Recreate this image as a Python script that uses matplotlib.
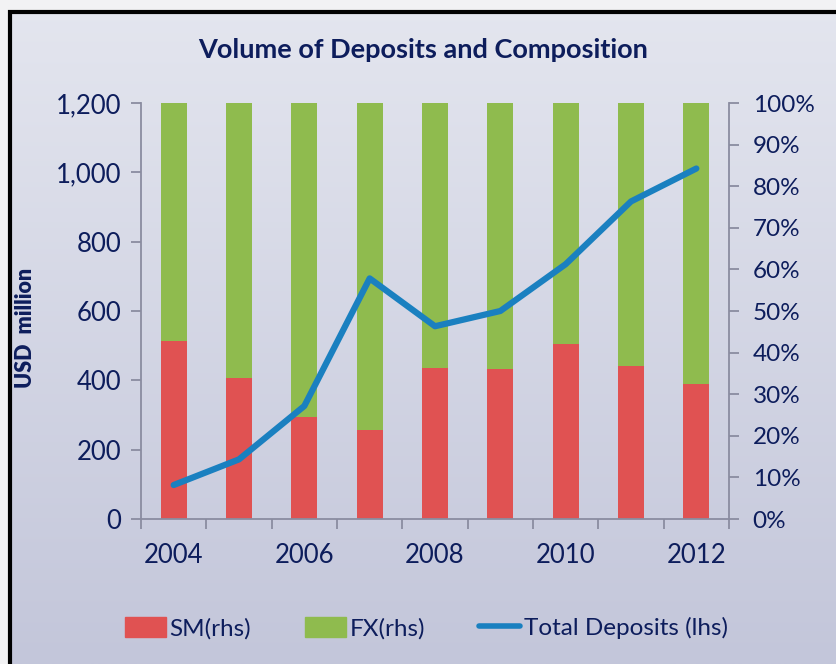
import numpy as np
import matplotlib
matplotlib.use("Agg")
import matplotlib.pyplot as plt
from matplotlib.patches import Rectangle, Patch
from matplotlib.lines import Line2D
from matplotlib.ticker import FuncFormatter

years = [2004, 2005, 2006, 2007, 2008, 2009, 2010, 2011, 2012]
total_deposits = [98, 172, 326, 694, 556, 600, 735, 916, 1011]   # USD million (lhs)
sm_share = [42.7, 33.9, 24.4, 21.4, 36.3, 36.1, 42.1, 36.7, 32.4]  # % (rhs)
fx_share = [100 - s for s in sm_share]

navy = "#0d1d5c"
red = "#e05252"
green = "#8fbb4e"
blue = "#1a80c0"
grey = "#8a8ca0"

plt.rcParams['font.family'] = ['Lato', 'DejaVu Sans']

fig = plt.figure(figsize=(8.37, 6.64), dpi=100)

# background gradient + outer frame
bg = fig.add_axes([0, 0, 1, 1], zorder=-10)
grad = np.linspace(0, 1, 256).reshape(-1, 1)
cmap = matplotlib.colors.LinearSegmentedColormap.from_list("bg", ["#e4e6ef", "#c3c6da"])
bg.imshow(grad, aspect="auto", cmap=cmap, extent=[0, 1, 0, 1])
bg.set_xlim(0, 1)
bg.set_ylim(0, 1)
bg.axis("off")
bg.add_patch(Rectangle((-0.1, 1 - 10 / 664), 1.2, 0.1, color="#f2f2f4", zorder=2))
bg.add_patch(Rectangle((-0.1, -0.1), 0.11, 1.2, color="#f2f2f4", zorder=2))
bg.plot([10 / 837, 10 / 837, 1.01], [-0.01, 1 - 11.5 / 664, 1 - 11.5 / 664],
        color="black", lw=3, zorder=3, solid_joinstyle="miter")

ax = fig.add_axes([141 / 837, 1 - 519 / 664, (729 - 141) / 837, (519 - 103) / 664])
ax2 = ax.twinx()
x = np.arange(len(years))

ax2.bar(x, sm_share, width=0.4, color=red, label="SM(rhs)")
ax2.bar(x, fx_share, width=0.4, bottom=sm_share, color=green, label="FX(rhs)")
ax.plot(x, total_deposits, color=blue, lw=4.5, solid_capstyle="round", label="Total Deposits (lhs)")

ax.set_zorder(ax2.get_zorder() + 1)
ax.patch.set_visible(False)
ax2.patch.set_visible(False)

ax.set_xlim(-0.5, len(years) - 0.5)
ax.set_ylim(0, 1200)
ax2.set_ylim(0, 100)
ax.set_yticks(range(0, 1201, 200))
ax.yaxis.set_major_formatter(FuncFormatter(lambda v, p: f"{int(v):,}"))
ax2.set_yticks(range(0, 101, 10))
ax2.yaxis.set_major_formatter(FuncFormatter(lambda v, p: f"{int(v)}%"))

ax.set_xticks(x[::2])
ax.set_xticklabels([str(y) for y in years[::2]])
ax.set_xticks(np.arange(-0.5, len(years)), minor=True)
ax.tick_params(axis="x", which="major", length=0, pad=17)
ax.tick_params(axis="x", which="minor", length=7, color=grey, width=1.3)

for a in (ax, ax2):
    for s in a.spines.values():
        s.set_visible(False)
    a.tick_params(axis="y", length=7, color=grey, width=1.3, labelsize=18.5, labelcolor=navy, pad=7)
    a.tick_params(axis="x", labelsize=18.5, labelcolor=navy)
ax2.tick_params(axis="y", labelsize=17.5, pad=10)
ax.spines["left"].set_visible(True)
ax.spines["bottom"].set_visible(True)
ax2.spines["right"].set_visible(True)
for s in (ax.spines["left"], ax.spines["bottom"], ax2.spines["right"]):
    s.set_color(grey)
    s.set_linewidth(1.3)

ax.set_ylabel("USD  million", fontsize=15.5, fontweight="heavy", color=navy)
ax.yaxis.set_label_coords(-0.178, 0.46)

fig.text(0.505, 1 - 50 / 664, "Volume of Deposits and Composition", ha="center", va="center",
         fontsize=19.5, fontweight="bold", color=navy)

handles = [Patch(color=red), Patch(color=green), Line2D([], [], color=blue, lw=4, solid_capstyle="round")]
labels = ["SM(rhs)", "FX(rhs)", "Total Deposits (lhs)"]
fig.legend(handles, labels, loc="center", bbox_to_anchor=(0.509, 1 - 628 / 664), ncol=3, frameon=False,
           fontsize=17.5, labelcolor=navy, handlelength=1.7, handleheight=0.9, handletextpad=0.15,
           columnspacing=2.2)

fig.savefig("out.png", dpi=100)
